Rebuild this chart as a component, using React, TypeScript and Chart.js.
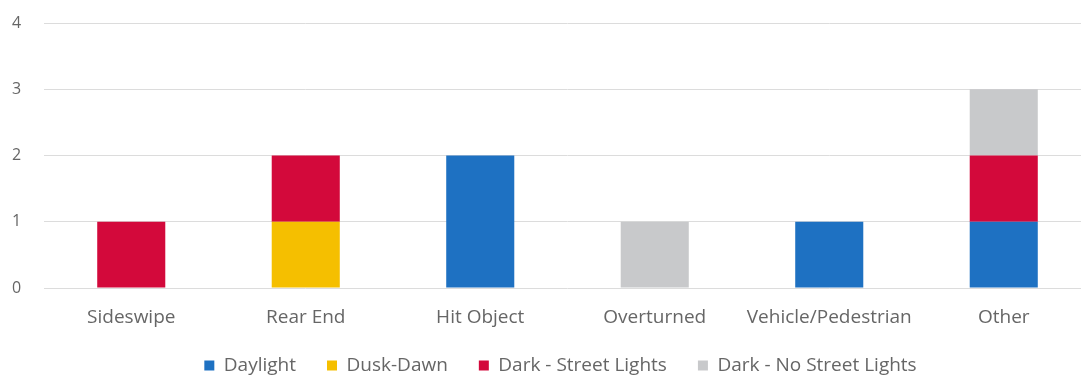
import React, { useEffect, useRef } from "react";
import { Chart, registerables } from "chart.js";

Chart.register(...registerables);

const categories = ["Sideswipe", "Rear End", "Hit Object", "Overturned", "Vehicle/Pedestrian", "Other"];
const daylight = [0, 0, 2, 0, 1, 1];
const duskDawn = [0, 1, 0, 0, 0, 0];
const darkStreetLights = [1, 1, 0, 0, 0, 1];
const darkNoStreetLights = [0, 0, 0, 1, 0, 1];
const yTicks = [0, 1, 2, 3, 4];

const FONT = "'Open Sans', Lato, sans-serif";
const TEXT = "#666666";

const legendShift = {
  id: "legendShift",
  afterLayout(chart: any) {
    const lg = chart.legend;
    if (!lg) return;
    lg.left += 9;
    lg.right += 9;
    lg.top -= 5;
    lg.bottom -= 5;
  },
};

export default function App() {
  const ref = useRef<HTMLCanvasElement | null>(null);
  useEffect(() => {
    if (!ref.current) return;
    const bp = 0.78;
    const cp = 0.5;
    const chart = new Chart(ref.current, {
      type: "bar",
      data: {
        labels: categories,
        datasets: [
          { label: "Daylight", data: daylight, backgroundColor: "#1e71c2", barPercentage: bp, categoryPercentage: cp },
          { label: "Dusk-Dawn", data: duskDawn, backgroundColor: "#f5bf00", barPercentage: bp, categoryPercentage: cp },
          { label: "Dark - Street Lights", data: darkStreetLights, backgroundColor: "#d3093b", barPercentage: bp, categoryPercentage: cp },
          { label: "Dark - No Street Lights", data: darkNoStreetLights, backgroundColor: "#c8c9cb", barPercentage: bp, categoryPercentage: cp },
        ],
      },
      plugins: [legendShift],
      options: {
        animation: false,
        responsive: true,
        maintainAspectRatio: false,
        layout: { padding: { top: 23, right: 9, left: 12, bottom: 0 } },
        plugins: {
          tooltip: { enabled: false },
          legend: {
            position: "bottom",
            labels: {
              boxWidth: 10,
              boxHeight: 10,
              padding: 31,
              color: TEXT,
              font: { family: FONT, size: 19 },
            },
          },
        },
        scales: {
          x: {
            stacked: true,
            grid: { display: false },
            border: { display: false },
            afterFit: (s: any) => { s.height = 42; },
            ticks: { color: TEXT, font: { family: FONT, size: 19 }, padding: 10, maxRotation: 0 },
          },
          y: {
            stacked: true,
            min: 0,
            max: 4,
            afterFit: (s: any) => { s.width = 32; },
            afterBuildTicks: (s: any) => { s.ticks = yTicks.map((v) => ({ value: v })); },
            grid: { color: "#dcdcdc", drawTicks: false, lineWidth: 1 },
            border: { display: false },
            ticks: { color: TEXT, font: { family: FONT, size: 16 }, padding: 0, crossAlign: "far" },
          },
        },
      },
    });
    return () => chart.destroy();
  }, []);
  return (
    <div style={{ position: "fixed", left: 0, top: 0, width: 1081, height: 379, overflow: "hidden", background: "#fff" }}>
      <div style={{ position: "relative", width: 1100, height: 390 }}>
        <canvas ref={ref} />
      </div>
    </div>
  );
}
